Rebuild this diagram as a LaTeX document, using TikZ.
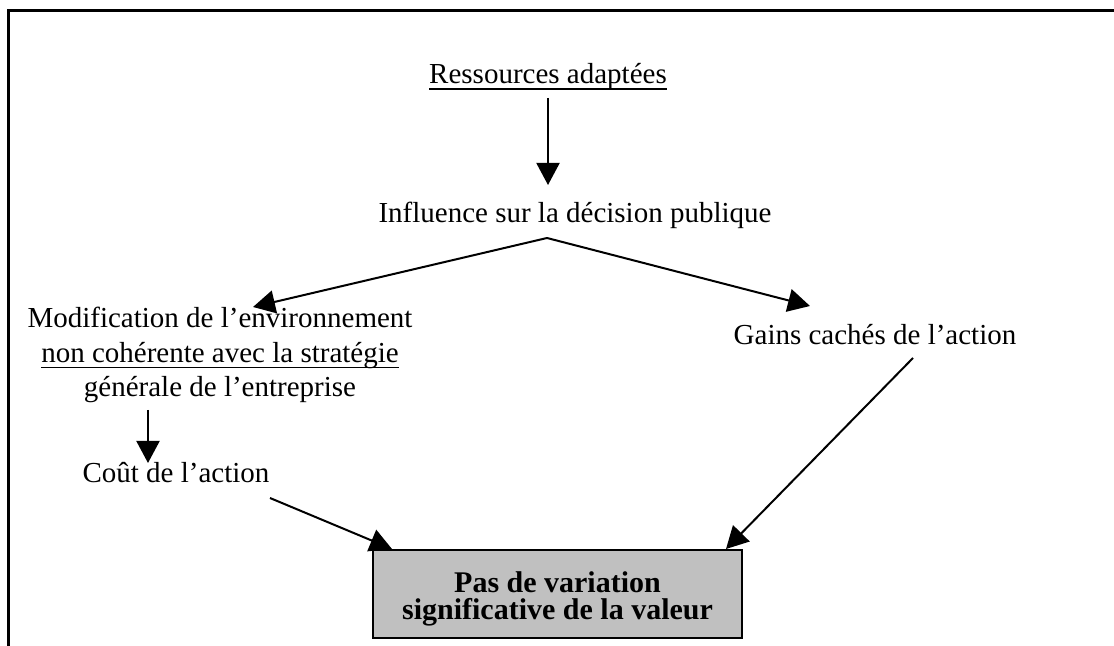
\documentclass[tikz,border=0pt]{standalone}
\usepackage{fontspec}
\setmainfont{Liberation Serif}
\usetikzlibrary{arrows.meta,calc}
\definecolor{boxgray}{RGB}{192,192,192}
\newcommand\ultext[1]{\setbox0\hbox{#1}\rlap{\rule[-2.8pt]{\wd0}{0.75pt}}\box0}
\begin{document}
\begin{tikzpicture}[
	txt/.style={anchor=base, inner sep=0pt, font=\fontsize{14.5}{17.25}\selectfont},
	result/.style={draw, line width=1pt, fill=boxgray, minimum width=184.5pt, minimum height=44pt,
		inner sep=0pt, align=center, text height=28pt, text depth=3pt,
		font=\fontsize{15}{13.5}\selectfont\bfseries},
	arr/.style={-{Triangle[length=11pt,width=11.5pt]}, line width=1pt},
	frame/.style={line width=1.5pt},
	x=0.5pt, y=-0.5pt
]
\useasboundingbox (0,0) rectangle (1114,646);
% Outer frame (only top and left sides visible)
\draw[frame] (8,646) -- (8,11) -- (1114,11);

% Texts
\node[txt] (res) at (548,84) {\ultext{Ressources adaptées}};
\node[txt, align=center] (modif) at (220,397) {Modification de l’environnement\\
	\ultext{non cohérente avec la stratégie}\\générale de l’entreprise};
\node[txt] (infl) at (575,223) {Influence sur la décision publique};
\node[txt] (gains) at (875,345) {Gains cachés de l’action};
\node[txt] (cout) at (176,483) {Coût de l’action};

% Result box
\node[result] (valeur) at (557.5,594) {Pas de variation\\significative de la valeur};

% Arrows
\draw[arr] ($(res.base)+(0,14)$) -- ($(infl.base)+(-27,-38)$);
\draw[arr] ($(infl.base)+(-28,15)$) -- ($(modif.base)+(33,-90)$);
\draw[arr] ($(infl.base)+(-28,15)$) -- ($(gains.base)+(-65,-39)$);
\draw[arr] ($(modif.base)+(-72,13)$) -- ($(cout.base)+(-28,-20)$);
\draw[arr] ($(cout.base)+(94,15)$) -- ($(valeur.north west)+(20,0)$);
\draw[arr] ($(gains.base)+(38,13)$) -- ($(valeur.north east)+(-17,0)$);
\end{tikzpicture}
\end{document}
